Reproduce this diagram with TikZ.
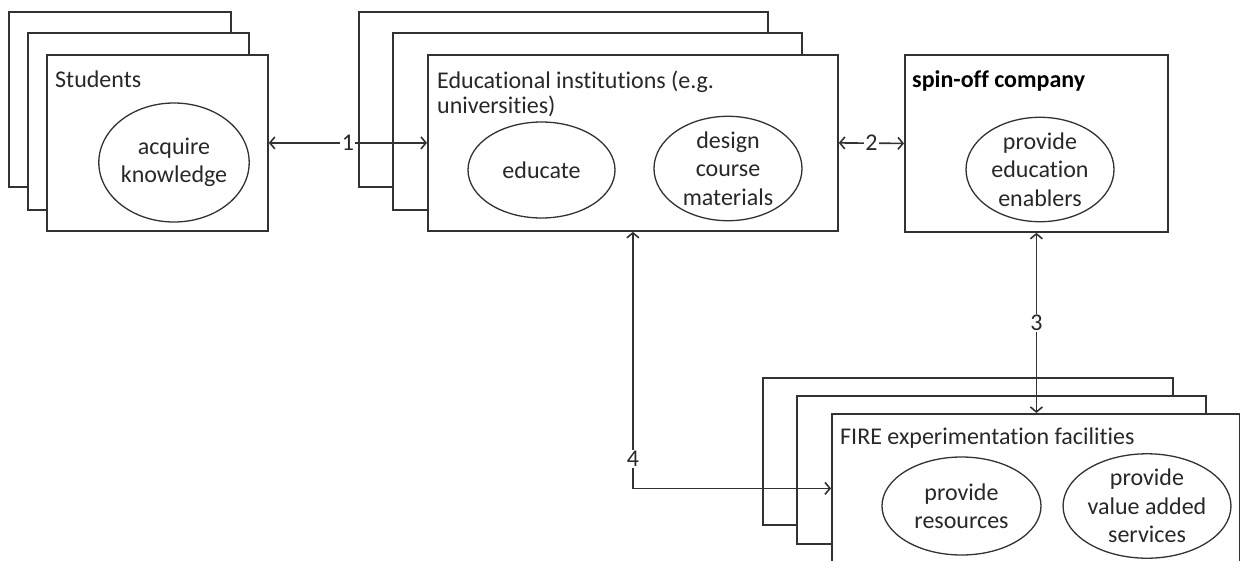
\documentclass[tikz,border=0pt]{standalone}
\usepackage{fontspec}
\setmainfont{Carlito}[Ligatures={NoCommon}]
\usetikzlibrary{shapes.geometric,arrows.meta}

\definecolor{linegray}{RGB}{50,50,50}
\definecolor{textgray}{RGB}{40,40,40}
\newcommand\dgmfont{\fontsize{24}{28.5}\selectfont}
\newcommand\dgmtitlefont{\fontsize{24}{25}\selectfont}

\begin{document}
\begin{tikzpicture}[x=1pt,y=-1pt,
  frame/.style={draw=linegray, line width=1.8pt, fill=white, rectangle,
    inner sep=0pt, anchor=north west},
  act/.style={draw=linegray, line width=1.3pt, fill=white, ellipse,
    inner sep=0pt, align=center, font=\dgmfont, text=textgray},
  title/.style={inner sep=0pt, font=\dgmtitlefont, text=textgray, align=left},
  lbl/.style={fill=white, inner sep=1.5pt, font=\dgmfont, text=textgray},
  conn/.style={draw=linegray, line width=1.6pt,
    {Straight Barb[length=5pt,width=12pt]}-{Straight Barb[length=5pt,width=12pt]}}
]
\useasboundingbox (0,0) rectangle (1240,560);
\clip (0,0) rectangle (1240,560);

% Students (stacked)
\node[frame, minimum width=222pt, minimum height=175pt] (stuC) at (8,11) {};
\node[frame, minimum width=221pt, minimum height=177pt] (stuB) at (27,32) {};
\node[frame, minimum width=221pt, minimum height=176pt] (stu) at (46,54) {};
\node[title, anchor=base west] (stuT) at ([xshift=9pt,yshift=-33pt]stu.north west) {Students};
\node[act, minimum width=148pt, minimum height=119pt] (acq) at (174,162.5) {acquire\\knowledge};

% Educational institutions (stacked)
\node[frame, minimum width=409pt, minimum height=175pt] (eduC) at (358,11) {};
\node[frame, minimum width=409pt, minimum height=177pt] (eduB) at (392,32) {};
\node[frame, minimum width=410pt, minimum height=176pt] (edu) at (427,54) {};
\node[title, anchor=north west] (eduT) at ([xshift=10pt,yshift=-17pt]edu.north west)
  {Educational institutions (e.g.\\universities)};
\node[act, minimum width=147pt, minimum height=96pt] (educ) at (541.5,170) {educate};
\node[act, minimum width=148pt, minimum height=97pt] (design) at (728,168.5) {design\\course\\materials};

% Spin-off company
\node[frame, minimum width=263pt, minimum height=177pt] (spin) at (904,54) {};
\node[title, anchor=base west, font=\dgmtitlefont\bfseries, text=black] (spinT)
  at ([xshift=8pt,yshift=-33pt]spin.north west) {spin-off company};
\node[act, minimum width=148pt, minimum height=99pt] (enab) at (1040,169.5) {provide\\education\\enablers};

% FIRE experimentation facilities (stacked)
\node[frame, minimum width=410pt, minimum height=147pt] (fireC) at (762,377) {};
\node[frame, minimum width=409pt, minimum height=148pt] (fireB) at (796,395) {};
\node[frame, minimum width=408pt, minimum height=149pt] (fire) at (831,413) {};
\node[title, anchor=base west] (fireT) at ([xshift=9pt,yshift=-31pt]fire.north west)
  {FIRE experimentation facilities};
\node[act, minimum width=159pt, minimum height=98pt] (res) at (961.5,506) {provide\\resources};
\node[act, minimum width=160pt, minimum height=98pt] (vas) at (1147,506) {provide\\value added\\services};

% Relations
\draw[conn] (stu.east) -- node[lbl]{1} (edu.west);
\draw[conn] (edu.east) -- node[lbl]{2} (spin.west);
\draw[conn] (spin.south) -- node[lbl]{3} (spin.south |- fire.north);
\coordinate (c4) at (edu.south |- fire.west);
\draw[conn] (edu.south) -- node[lbl, pos=0.885]{4} (c4) -- (fire.west);
\end{tikzpicture}
\end{document}
